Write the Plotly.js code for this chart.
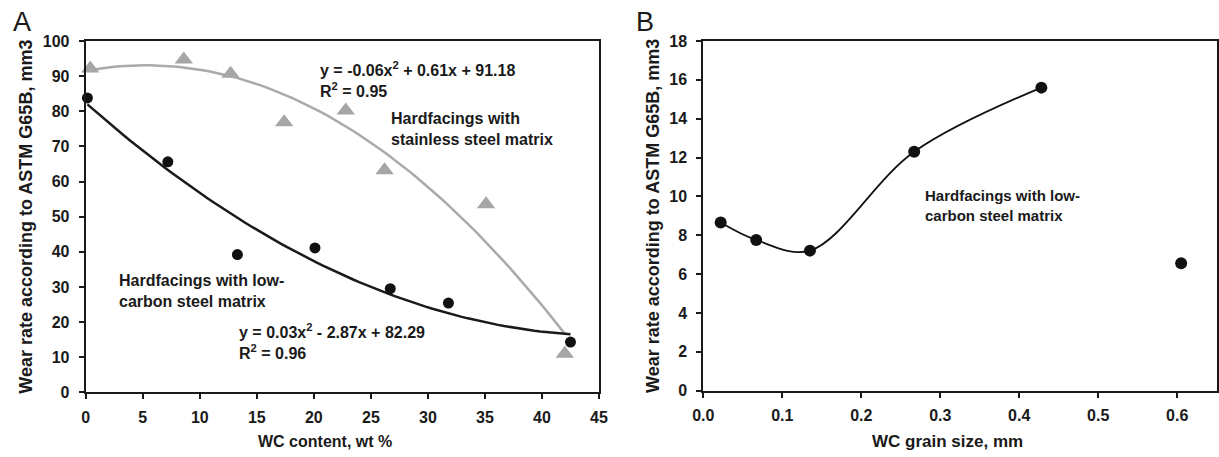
<!DOCTYPE html>
<html>
<head>
<meta charset="utf-8">
<script src="https://cdn.plot.ly/plotly-3.0.1.min.js"></script>
<style>
  html, body { margin: 0; padding: 0; background: #fff; }
  #chart { width: 1219px; height: 457px; }
</style>
</head>
<body>
<div id="chart"></div>
<script>
// ---- Data ----
// Panel A: WC content (wt %) vs wear rate (mm3)
const wcContentStainless = [0.4, 8.6, 12.7, 17.4, 22.8, 26.2, 35.1, 42.0];
const wearStainless      = [92.2, 94.7, 90.7, 76.9, 80.2, 63.2, 53.5, 11.0];
const wcContentLowCarbon = [0.15, 7.2, 13.3, 20.1, 26.7, 31.8, 42.5];
const wearLowCarbon      = [83.8, 65.6, 39.2, 41.1, 29.5, 25.4, 14.3];
// Panel B: WC grain size (mm) vs wear rate (mm3)
const grainSize = [0.022, 0.067, 0.135, 0.267, 0.428, 0.605];
const wearGrain = [8.66, 7.76, 7.21, 12.30, 15.60, 6.56];
const grainCurveCount = 5; // first five points joined by a smoothed line

// Tick values and labels
const xTicksA = [0, 5, 10, 15, 20, 25, 30, 35, 40, 45];
const yTicksA = [0, 10, 20, 30, 40, 50, 60, 70, 80, 90, 100];
const xTicksB = [0.0, 0.1, 0.2, 0.3, 0.4, 0.5, 0.6];
const xTickLabelsB = ['0.0', '0.1', '0.2', '0.3', '0.4', '0.5', '0.6'];
const yTicksB = [0, 2, 4, 6, 8, 10, 12, 14, 16, 18];

// Text
const eqStainless = 'y = -0.06x<sup>2</sup> + 0.61x + 91.18<br>R<sup>2</sup> = 0.95';
const eqLowCarbon = 'y = 0.03x<sup>2</sup> - 2.87x + 82.29<br>R<sup>2</sup> = 0.96';
const labelStainless = 'Hardfacings with<br>stainless steel matrix';
const labelLowCarbon = 'Hardfacings with low-<br>carbon steel matrix';
const yTitle = 'Wear rate according to ASTM G65B, mm3';
const xTitleA = 'WC content, wt %';
const xTitleB = 'WC grain size, mm';

// ---- Polynomial (order 2) least-squares trendline, as in the original spreadsheet ----
function quadFit(xs, ys) {
  const s = [0, 0, 0, 0, 0], t = [0, 0, 0];
  for (let i = 0; i < xs.length; i++) {
    let p = 1;
    for (let k = 0; k <= 4; k++) { s[k] += p; if (k <= 2) t[k] += ys[i] * p; p *= xs[i]; }
  }
  const M = [[s[0], s[1], s[2], t[0]], [s[1], s[2], s[3], t[1]], [s[2], s[3], s[4], t[2]]];
  for (let c = 0; c < 3; c++) {
    for (let r = c + 1; r < 3; r++) {
      const f = M[r][c] / M[c][c];
      for (let k = c; k < 4; k++) M[r][k] -= f * M[c][k];
    }
  }
  const sol = [0, 0, 0];
  for (let r = 2; r >= 0; r--) {
    let v = M[r][3];
    for (let k = r + 1; k < 3; k++) v -= M[r][k] * sol[k];
    sol[r] = v / M[r][r];
  }
  return sol; // [c, b, a]
}
function trend(xs, ys) {
  const [c, b, a] = quadFit(xs, ys);
  const lo = Math.min(...xs), hi = Math.max(...xs);
  const tx = [], ty = [];
  for (let i = 0; i <= 80; i++) {
    const x = lo + (hi - lo) * i / 80;
    tx.push(x); ty.push(a * x * x + b * x + c);
  }
  return { x: tx, y: ty };
}

const trendS = trend(wcContentStainless, wearStainless);
const trendL = trend(wcContentLowCarbon, wearLowCarbon);

const GRAY = '#a6a6a6';
const INK = '#1a1a1a';
const FONT = 'Liberation Sans, Arial, sans-serif';
const bold = arr => arr.map(v => '<b>' + v + '</b>');

const traces = [
  { x: trendS.x, y: trendS.y, mode: 'lines', line: { color: '#aaaaaa', width: 2.5 }, xaxis: 'x', yaxis: 'y', hoverinfo: 'skip' },
  { x: trendL.x, y: trendL.y, mode: 'lines', line: { color: INK, width: 2.5 }, xaxis: 'x', yaxis: 'y', hoverinfo: 'skip' },
  { x: wcContentStainless, y: wearStainless, mode: 'markers', marker: { symbol: 'triangle-up', size: 16, color: GRAY }, cliponaxis: false, xaxis: 'x', yaxis: 'y' },
  { x: wcContentLowCarbon, y: wearLowCarbon, mode: 'markers', marker: { symbol: 'circle', size: 11, color: '#111' }, cliponaxis: false, xaxis: 'x', yaxis: 'y' },
  { x: grainSize.slice(0, grainCurveCount), y: wearGrain.slice(0, grainCurveCount), mode: 'lines+markers',
    line: { color: '#111', width: 1.8, shape: 'spline', smoothing: 1 },
    marker: { symbol: 'circle', size: 12, color: '#111' }, cliponaxis: false, xaxis: 'x2', yaxis: 'y2' },
  { x: grainSize.slice(grainCurveCount), y: wearGrain.slice(grainCurveCount), mode: 'markers',
    marker: { symbol: 'circle', size: 12, color: '#111' }, cliponaxis: false, xaxis: 'x2', yaxis: 'y2' }
];

const W = 1219, H = 457;
const px = v => v / W;
const py = v => 1 - v / H;

const tickFont = { family: FONT, size: 16, color: INK, weight: 'bold' };
const yTitleObj = { text: '<b>' + yTitle + '</b>', font: { family: FONT, size: 18, color: INK, weight: 'bold' }, standoff: 5 };
const axisCommon = {
  showgrid: false, zeroline: false, showline: true, mirror: true, automargin: false,
  linecolor: INK, linewidth: 2, ticks: 'outside', ticklen: 5, tickwidth: 2, tickcolor: INK,
  tickfont: tickFont, tickmode: 'array', fixedrange: true
};

const ann = (text, x, y, opts) => Object.assign({
  text: text, xref: 'paper', yref: 'paper', x: px(x), y: py(y),
  xanchor: 'left', yanchor: 'middle', showarrow: false, align: 'left',
  font: { family: FONT, size: 16, color: INK, weight: 'bold' }
}, opts || {});

const layout = {
  width: W, height: H,
  margin: { l: 0, r: 0, t: 0, b: 0 },
  paper_bgcolor: '#fff', plot_bgcolor: '#fff',
  showlegend: false, hovermode: false,
  xaxis: Object.assign({}, axisCommon, { domain: [px(85.7), px(599)], range: [0, 45], tickvals: xTicksA, ticktext: bold(xTicksA), ticklabelstandoff: 4, anchor: 'y' }),
  yaxis: Object.assign({}, axisCommon, { domain: [1 - 392.3 / H, 1 - 41 / H], range: [0, 100], tickvals: yTicksA, ticktext: bold(yTicksA), ticklabelstandoff: 6, anchor: 'x', title: yTitleObj }),
  xaxis2: Object.assign({}, axisCommon, { domain: [px(703.3), px(1216.7)], range: [0, 0.65], tickvals: xTicksB, ticktext: bold(xTickLabelsB), ticklabelstandoff: 4, anchor: 'y2' }),
  yaxis2: Object.assign({}, axisCommon, { domain: [1 - 390.7 / H, 1 - 41 / H], range: [0, 18], tickvals: yTicksB, ticktext: bold(yTicksB), ticklabelstandoff: 6, anchor: 'x2', title: yTitleObj }),
  annotations: [
    ann('A', 22, 22, { xanchor: 'center', font: { family: FONT, size: 27, color: INK } }),
    ann('B', 645, 22, { xanchor: 'center', font: { family: FONT, size: 27, color: INK } }),
    ann('<b>' + xTitleA + '</b>', 325, 441, { xanchor: 'center', font: { family: FONT, size: 16, color: INK } }),
    ann('<b>' + xTitleB + '</b>', 947, 441, { xanchor: 'center', font: { family: FONT, size: 17, color: INK } }),
    ann('<b>' + eqStainless + '</b>', 318, 79),
    ann('<b>' + labelStainless + '</b>', 389, 129),
    ann('<b>' + labelLowCarbon + '</b>', 117, 291),
    ann('<b>' + eqLowCarbon + '</b>', 237, 341),
    ann('<b>' + labelLowCarbon + '</b>', 923, 205, { font: { family: FONT, size: 15, color: INK } })
  ]
};

Plotly.newPlot('chart', traces, layout, { staticPlot: true, displayModeBar: false });
</script>
</body>
</html>
